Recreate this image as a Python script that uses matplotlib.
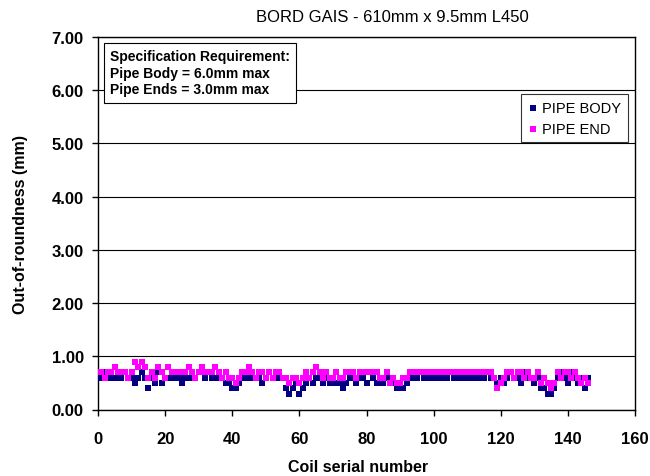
import matplotlib
matplotlib.use("Agg")
import matplotlib.pyplot as plt
import numpy as np

plt.rcParams['font.family'] = ['Liberation Sans', 'DejaVu Sans']

coil = list(range(1, 147))
pipe_body = [
    0.6,0.7,0.6,0.6,0.6,0.6,0.6,0.7,0.6,0.6,
    0.5,0.6,0.7,0.6,0.4,0.6,0.5,0.7,0.5,0.6,
    0.6,0.6,0.6,0.6,0.5,0.6,0.6,0.6,0.6,0.7,
    0.7,0.6,0.7,0.6,0.6,0.6,0.6,0.5,0.5,0.4,
    0.4,0.5,0.6,0.6,0.7,0.6,0.6,0.6,0.5,0.6,
    0.7,0.6,0.6,0.6,0.6,0.4,0.3,0.4,0.5,0.3,
    0.4,0.5,0.6,0.5,0.6,0.6,0.5,0.6,0.5,0.6,
    0.5,0.5,0.4,0.5,0.6,0.6,0.5,0.6,0.6,0.5,
    0.7,0.6,0.5,0.6,0.5,0.6,0.6,0.5,0.4,0.4,
    0.4,0.5,0.6,0.6,0.6,0.7,0.6,0.6,0.6,0.6,
    0.7,0.6,0.6,0.6,0.7,0.6,0.6,0.6,0.6,0.6,
    0.6,0.7,0.6,0.6,0.6,0.7,0.6,0.6,0.5,0.6,
    0.5,0.6,0.7,0.6,0.6,0.5,0.7,0.6,0.6,0.5,
    0.6,0.4,0.4,0.3,0.3,0.4,0.6,0.7,0.6,0.5,
    0.7,0.6,0.5,0.6,0.4,0.6,
]
pipe_end = [
    0.7,0.6,0.7,0.7,0.8,0.7,0.7,0.7,0.6,0.7,
    0.9,0.8,0.9,0.8,0.6,0.7,0.6,0.8,0.7,0.6,
    0.8,0.7,0.7,0.7,0.7,0.7,0.8,0.7,0.6,0.7,
    0.8,0.7,0.7,0.7,0.8,0.7,0.6,0.7,0.6,0.6,
    0.5,0.6,0.7,0.7,0.8,0.7,0.6,0.7,0.7,0.6,
    0.7,0.6,0.7,0.7,0.6,0.6,0.5,0.6,0.6,0.5,
    0.6,0.7,0.6,0.7,0.8,0.7,0.6,0.7,0.6,0.6,
    0.7,0.6,0.6,0.7,0.7,0.7,0.6,0.7,0.7,0.7,
    0.7,0.7,0.7,0.6,0.6,0.7,0.5,0.6,0.5,0.5,
    0.6,0.6,0.7,0.7,0.7,0.7,0.7,0.7,0.7,0.7,
    0.7,0.7,0.7,0.7,0.7,0.7,0.7,0.7,0.7,0.7,
    0.7,0.7,0.7,0.7,0.7,0.7,0.7,0.6,0.4,0.5,
    0.6,0.7,0.7,0.6,0.7,0.7,0.6,0.7,0.6,0.6,
    0.7,0.5,0.6,0.5,0.4,0.5,0.7,0.6,0.7,0.7,
    0.6,0.7,0.6,0.5,0.6,0.5,
]
x_ticks = [0, 20, 40, 60, 80, 100, 120, 140, 160]
y_ticks = [0, 1, 2, 3, 4, 5, 6, 7]

W, H = 650, 477
fig = plt.figure(figsize=(W/100, H/100), dpi=100)
L, R, T, B = 98, 635, 38, 410.5
ax = fig.add_axes([L/W, 1-B/H, (R-L)/W, (B-T)/H])

ax.scatter(coil, pipe_body, marker='s', s=17, color='#000080', linewidths=0, label='PIPE BODY', zorder=3)
ax.scatter(coil, pipe_end, marker='s', s=17, color='#FF00FF', linewidths=0, label='PIPE END', zorder=4)

ax.set_xlim(0, 160)
ax.set_ylim(0, 7)
ax.set_xticks(x_ticks)
ax.set_yticks(y_ticks)
ax.set_yticklabels([f"{v:.2f}" for v in y_ticks])
ax.set_xticklabels([str(v) for v in x_ticks])
for lbl in ax.get_xticklabels() + ax.get_yticklabels():
    lbl.set_fontweight('bold')
    lbl.set_fontsize(12)
ax.tick_params(axis='x', direction='out', length=4.3, width=1, colors='black', pad=11)
ax.tick_params(axis='y', direction='out', length=4.3, width=1, colors='black', pad=6)
ax.yaxis.grid(True, color='black', linewidth=0.8)
ax.set_axisbelow(True)
for sp in ax.spines.values():
    sp.set_color('black')
    sp.set_linewidth(1)

ax.set_xlabel('Coil serial number', fontsize=11.5, fontweight='bold')
ax.xaxis.set_label_coords((358-L)/(R-L), -(468-B)/(B-T))
ax.xaxis.label.set_va('center')
ax.set_ylabel('Out-of-roundness (mm)', fontsize=11.5, fontweight='bold', labelpad=17)
fig.text(392/W, 1-17/H, 'BORD GAIS - 610mm x 9.5mm L450', ha='center', va='center', fontsize=12)

ax.text((110-L)/(R-L), (B-50)/(B-T),
        'Specification Requirement:\nPipe Body = 6.0mm max\nPipe Ends = 3.0mm max',
        transform=ax.transAxes, ha='left', va='top', fontsize=10, fontweight='bold',
        linespacing=1.25,
        bbox=dict(boxstyle='square,pad=0.45', facecolor='white', edgecolor='black', linewidth=0.8),
        zorder=5)

leg = ax.legend(loc='upper right', bbox_to_anchor=((628-L)/(R-L), (B-95)/(B-T)), frameon=True,
                fancybox=False, edgecolor='black', fontsize=10.5, markerscale=1.0,
                handletextpad=0.3, borderpad=0.45, labelspacing=0.5, handlelength=0.7,
                borderaxespad=0)
leg.get_frame().set_linewidth(0.8)

fig.savefig('out.png', dpi=100)
